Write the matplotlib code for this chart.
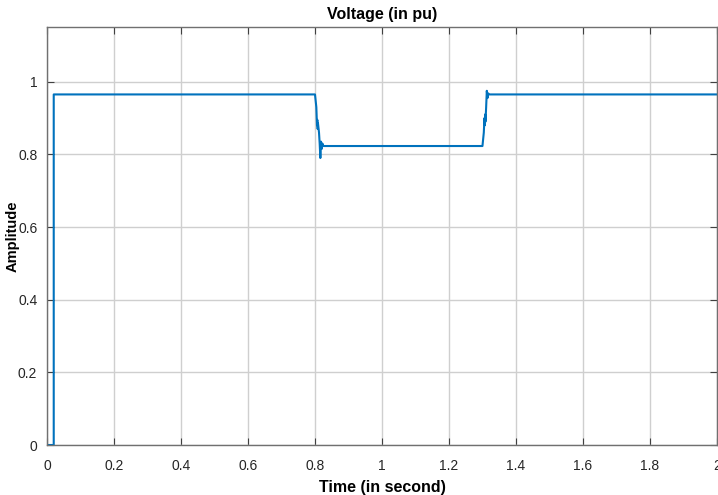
import matplotlib
matplotlib.use('Agg')
import matplotlib.pyplot as plt

# voltage trace at the bus, sag between 0.8 s and 1.3 s
time_s = [0.0, 0.02, 0.02, 0.800, 0.804, 0.806, 0.807, 0.808, 0.809, 0.812, 0.814,
          0.816, 0.818, 0.820, 0.822, 0.825, 1.300, 1.304, 1.306, 1.307, 1.308,
          1.309, 1.311, 1.313, 1.315, 1.317, 1.320, 2.0]
voltage_pu = [0.0, 0.0, 0.965, 0.965, 0.93, 0.88, 0.895, 0.87, 0.885, 0.86, 0.83,
              0.79, 0.835, 0.815, 0.83, 0.823, 0.823, 0.86, 0.90, 0.88, 0.91,
              0.89, 0.93, 0.975, 0.955, 0.968, 0.965, 0.965]

x_ticks = [0, 0.2, 0.4, 0.6, 0.8, 1, 1.2, 1.4, 1.6, 1.8, 2]
y_ticks = [0, 0.2, 0.4, 0.6, 0.8, 1]

sans = ['Liberation Sans', 'DejaVu Sans']

fig = plt.figure(figsize=(7.18, 4.95), dpi=100)
ax = fig.add_axes([0.0655, 0.101, 0.933, 0.844])

ax.plot(time_s, voltage_pu, color='#0072BD', linewidth=1.5)

ax.set_xlim(0, 2)
ax.set_ylim(0, 1.15)
ax.set_xticks(x_ticks)
ax.set_xticklabels([('%g' % t) for t in x_ticks], family=sans, fontsize=10)
ax.set_yticks(y_ticks)
ax.set_yticklabels([('%g' % v) for v in y_ticks], family=sans, fontsize=10)

ax.grid(True, color='#cfcfcf', linewidth=1.0)
for s in ax.spines.values():
    s.set_color('#707070')
    s.set_linewidth(1.0)
ax.tick_params(direction='in', length=5, top=True, right=True,
               colors='#404040', labelcolor='#262626', pad=7)
ax.tick_params(axis='x', pad=10)

ax.set_title('Voltage (in pu)', family=sans, fontsize=11.5, fontweight='bold', pad=6)
ax.set_xlabel('Time (in second)', family=sans, fontsize=11.5, fontweight='bold', labelpad=5)
ax.set_ylabel('Amplitude', family=sans, fontsize=10.5, fontweight='bold')
ax.yaxis.set_label_coords(-0.041, 0.5)

fig.savefig('out.png', dpi=100)
